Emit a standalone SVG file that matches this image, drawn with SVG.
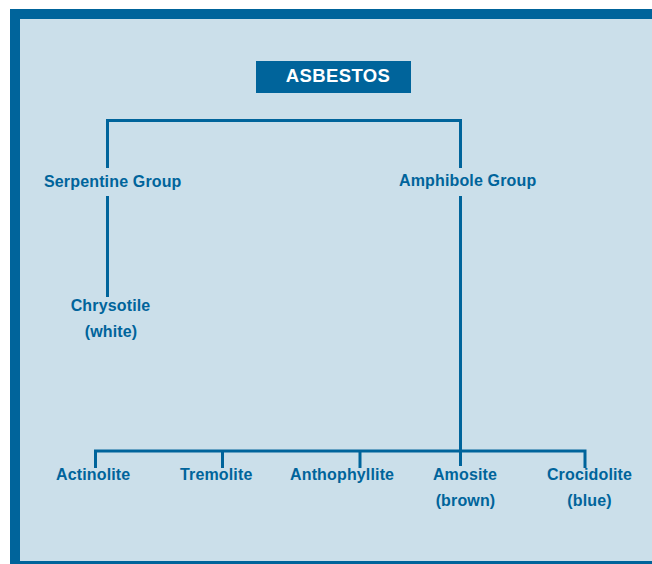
<svg xmlns="http://www.w3.org/2000/svg" width="652" height="564" viewBox="0 0 652 564">
<style>
.t{font-family:"Liberation Sans",Arial,sans-serif;font-weight:bold;font-size:16px;fill:#00649b;letter-spacing:0.15px}
.h{font-family:"Liberation Sans",Arial,sans-serif;font-weight:bold;font-size:18.5px;fill:#ffffff;letter-spacing:0.4px}
.c{fill:none;stroke:#00649b;stroke-width:3}
</style>
<rect x="0" y="0" width="652" height="564" fill="#ffffff"/>
<rect x="10" y="9" width="642" height="555" fill="#00649b"/>
<rect x="20" y="19" width="632" height="542" fill="#cbdfea"/>
<g id="connectors">
<path class="c" d="M107.5 168 V120.5 H460.5 V168"/>
<path class="c" d="M107.5 196 V297"/>
<path class="c" d="M460.5 196 V466"/>
<path class="c" d="M95.5 468 V451 H585 V468"/>
<path class="c" d="M222.5 451 V468"/>
<path class="c" d="M360 451 V468"/>
</g>
<g id="asbestos">
<rect x="256" y="61" width="155" height="32" fill="#00649b"/>
<text class="h" x="338" y="81.5" text-anchor="middle">ASBESTOS</text>
</g>
<g id="serpentine"><text class="t" x="44" y="186.5">Serpentine Group</text></g>
<g id="amphibole"><text class="t" x="399" y="186">Amphibole Group</text></g>
<g id="chrysotile"><text class="t" x="110.5" y="311" text-anchor="middle">Chrysotile</text><text class="t" x="111" y="337" text-anchor="middle">(white)</text></g>
<g id="actinolite"><text class="t" x="56" y="480">Actinolite</text></g>
<g id="tremolite"><text class="t" x="180" y="480">Tremolite</text></g>
<g id="anthophyllite"><text class="t" x="290" y="480">Anthophyllite</text></g>
<g id="amosite"><text class="t" x="465" y="480" text-anchor="middle">Amosite</text><text class="t" x="465.5" y="506" text-anchor="middle">(brown)</text></g>
<g id="crocidolite"><text class="t" x="589.5" y="480" text-anchor="middle">Crocidolite</text><text class="t" x="589.5" y="506" text-anchor="middle">(blue)</text></g>
</svg>
